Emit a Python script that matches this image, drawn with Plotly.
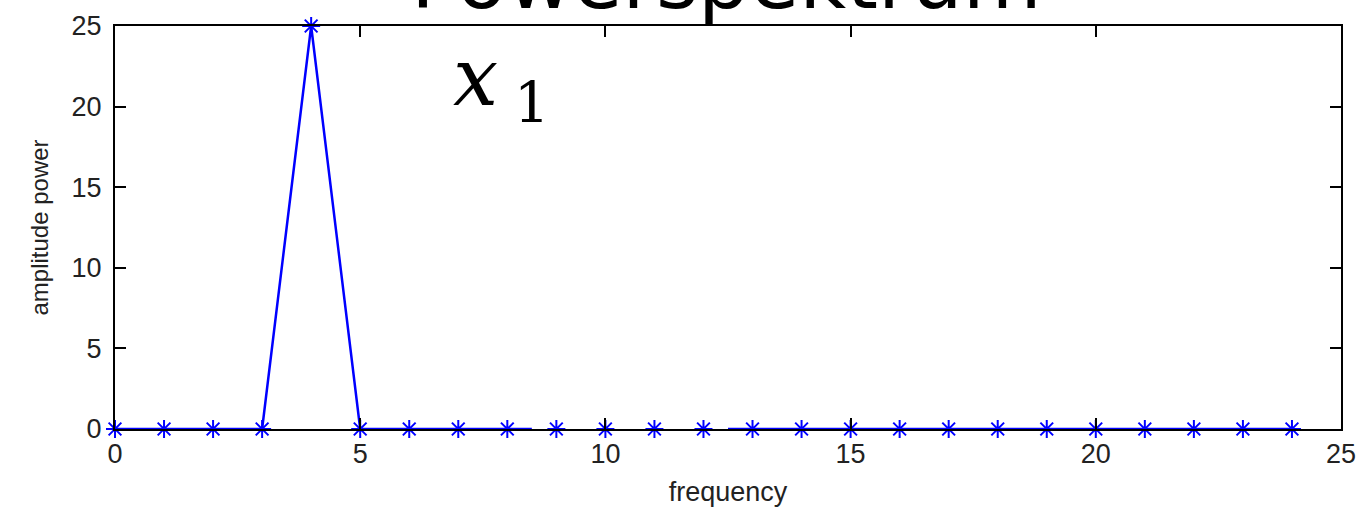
import numpy as np
import plotly.graph_objects as go

# ---- data ----
frequency = list(range(25))
amplitude_power = [0, 0, 0, 0, 25, 0, 0, 0, 0, 0, 0, 0, 0,
                   0, 0, 0, 0, 0, 0, 0, 0, 0, 0, 0, 0]
x_ticks = [0, 5, 10, 15, 20, 25]
y_ticks = [0, 5, 10, 15, 20, 25]
title_text = "Powerspektrum"
x_label = "frequency"
y_label = "amplitude power"

# the line is not drawn over a short stretch in the reference
gap = (8.5, 12.5)
fx = np.array(frequency, dtype=float)
fy = np.array(amplitude_power, dtype=float)
left = fx < gap[0]
right = fx > gap[1]
line_x = list(fx[left]) + [gap[0], None, gap[1]] + list(fx[right])
line_y = (list(fy[left]) + [float(np.interp(gap[0], fx, fy)), None,
          float(np.interp(gap[1], fx, fy))] + list(fy[right]))

BLUE = "#0000ff"
TICKFONT = dict(family="Liberation Sans, Arial, sans-serif", size=27, color="#222222")

fig = go.Figure()
fig.add_trace(go.Scatter(x=line_x, y=line_y, mode="lines",
                         line=dict(color=BLUE, width=2.5),
                         connectgaps=False, cliponaxis=False,
                         hoverinfo="skip", showlegend=False))
fig.add_trace(go.Scatter(x=frequency, y=amplitude_power, mode="markers",
                         marker=dict(symbol="asterisk-open", size=15, color=BLUE,
                                     line=dict(color=BLUE, width=2)),
                         cliponaxis=False, showlegend=False))

axis_common = dict(showline=True, linecolor="black", linewidth=2,
                   mirror="allticks", ticks="inside", ticklen=11,
                   tickwidth=1.5, tickcolor="black", showgrid=False,
                   zeroline=False, tickfont=TICKFONT, automargin=False)

fig.update_xaxes(range=[0, 25], tickvals=x_ticks, ticktext=[str(v) for v in x_ticks],
                 title=dict(text=x_label, standoff=14,
                            font=dict(family="Liberation Sans, Arial, sans-serif",
                                      size=27, color="#222222")),
                 **axis_common)
fig.update_yaxes(range=[0, 25], tickvals=y_ticks, ticktext=[str(v) for v in y_ticks],
                 ticklabelstandoff=6,
                 title=dict(text=y_label, standoff=16,
                            font=dict(family="Liberation Sans, Arial, sans-serif",
                                      size=24, color="#222222")),
                 **axis_common)

fig.add_annotation(text=title_text, xref="paper", yref="paper", x=0.499, y=1,
                   xanchor="center", yanchor="bottom", yshift=-3, showarrow=False,
                   font=dict(family="DejaVu Sans, sans-serif", size=81, color="black"))
fig.add_annotation(text="<i>x</i>\u2009<sub>1</sub>", xref="x", yref="y", x=6.85, y=18.1,
                   xanchor="left", yanchor="bottom", showarrow=False,
                   font=dict(family="DejaVu Serif, Liberation Serif, serif",
                             size=80, color="black"))

fig.update_layout(width=1364, height=513,
                  margin=dict(l=115, r=23, t=26, b=84),
                  paper_bgcolor="white", plot_bgcolor="white")

fig.write_html("out.html")
